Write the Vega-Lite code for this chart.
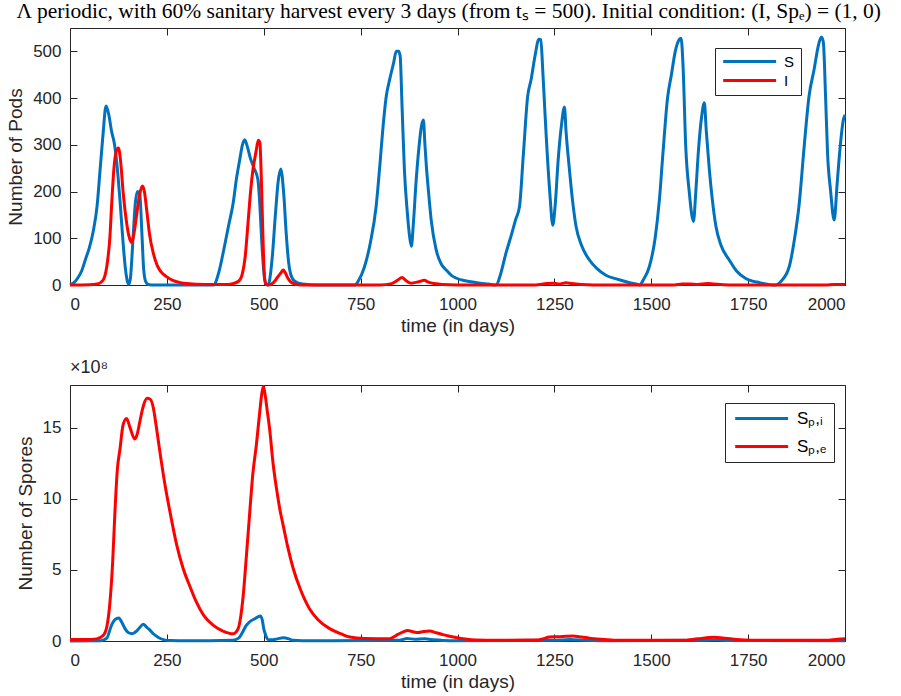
{
 "$schema": "https://vega.github.io/schema/vega-lite/v6.json",
 "background": "white",
 "padding": {"left": 6, "top": 0, "right": 5, "bottom": 5},
 "title": {"text": "Λ periodic, with 60% sanitary harvest every 3 days (from tₛ = 500). Initial condition: (I, Spₑ) = (1, 0)", "font": "Liberation Serif", "fontSize": 21.5, "fontWeight": "normal", "color": "black", "anchor": "middle", "offset": 5, "dx": 20},
 "config": {
  "font": "Liberation Sans",
  "view": {"stroke": "#262626", "strokeWidth": 1},
  "axis": {"domain": false, "grid": false, "tickColor": "#262626", "tickSize": -7, "labelColor": "#262626", "labelFontSize": 17, "titleFontSize": 19, "titleFontWeight": "normal", "titleColor": "#262626", "labelFont": "Liberation Sans", "titleFont": "Liberation Sans"},
  "legend": {"orient": "none", "title": null, "symbolType": "M-1,0L9,0", "symbolSize": 112, "symbolStrokeWidth": 3, "labelFontSize": 15, "labelColor": "black", "labelFont": "Liberation Sans", "strokeColor": "#262626", "fillColor": "white", "padding": 6, "rowPadding": 3, "labelOffset": 48, "cornerRadius": 0}
 },
 "datasets": {
  "pods": [
   {"t":0,"series":"S","n":0},{"t":10,"series":"S","n":5},{"t":20,"series":"S","n":15},{"t":30,"series":"S","n":30},{"t":40,"series":"S","n":55},{"t":50,"series":"S","n":80},{"t":60,"series":"S","n":115},{"t":70,"series":"S","n":170},{"t":78,"series":"S","n":250},{"t":85,"series":"S","n":320},{"t":93,"series":"S","n":383},{"t":100,"series":"S","n":365},{"t":107,"series":"S","n":330},{"t":115,"series":"S","n":300},{"t":122,"series":"S","n":250},{"t":130,"series":"S","n":170},{"t":137,"series":"S","n":90},{"t":143,"series":"S","n":35},{"t":148,"series":"S","n":8},{"t":152,"series":"S","n":2},{"t":156,"series":"S","n":15},{"t":162,"series":"S","n":90},{"t":168,"series":"S","n":170},{"t":174,"series":"S","n":200},{"t":180,"series":"S","n":195},{"t":185,"series":"S","n":120},{"t":190,"series":"S","n":35},{"t":195,"series":"S","n":8},{"t":200,"series":"S","n":2},{"t":210,"series":"S","n":0},
   {"t":370,"series":"S","n":0},{"t":385,"series":"S","n":30},{"t":395,"series":"S","n":68},{"t":410,"series":"S","n":130},{"t":421,"series":"S","n":175},{"t":430,"series":"S","n":230},{"t":438,"series":"S","n":268},{"t":445,"series":"S","n":300},{"t":451,"series":"S","n":311},{"t":458,"series":"S","n":295},{"t":466,"series":"S","n":270},{"t":475,"series":"S","n":250},{"t":485,"series":"S","n":225},{"t":490,"series":"S","n":170},{"t":495,"series":"S","n":90},{"t":500,"series":"S","n":30},{"t":505,"series":"S","n":3},{"t":510,"series":"S","n":0},{"t":515,"series":"S","n":10},{"t":522,"series":"S","n":60},{"t":530,"series":"S","n":150},{"t":537,"series":"S","n":220},{"t":544,"series":"S","n":248},{"t":552,"series":"S","n":190},{"t":558,"series":"S","n":110},{"t":564,"series":"S","n":50},{"t":570,"series":"S","n":22},{"t":580,"series":"S","n":8},{"t":600,"series":"S","n":2},{"t":640,"series":"S","n":0},
   {"t":735,"series":"S","n":0},{"t":745,"series":"S","n":10},{"t":760,"series":"S","n":39},{"t":775,"series":"S","n":90},{"t":790,"series":"S","n":168},{"t":800,"series":"S","n":260},{"t":808,"series":"S","n":340},{"t":816,"series":"S","n":403},{"t":825,"series":"S","n":440},{"t":835,"series":"S","n":475},{"t":842,"series":"S","n":500},{"t":848,"series":"S","n":500},{"t":852,"series":"S","n":490},{"t":857,"series":"S","n":380},{"t":863,"series":"S","n":246},{"t":870,"series":"S","n":160},{"t":877,"series":"S","n":100},{"t":881,"series":"S","n":83},{"t":886,"series":"S","n":130},{"t":893,"series":"S","n":220},{"t":900,"series":"S","n":290},{"t":907,"series":"S","n":340},{"t":912,"series":"S","n":353},{"t":916,"series":"S","n":300},{"t":920,"series":"S","n":250},{"t":924,"series":"S","n":211},{"t":932,"series":"S","n":140},{"t":945,"series":"S","n":75},{"t":958,"series":"S","n":45},{"t":971,"series":"S","n":32},{"t":985,"series":"S","n":20},{"t":996,"series":"S","n":15},{"t":1020,"series":"S","n":9},{"t":1050,"series":"S","n":5},{"t":1080,"series":"S","n":2},{"t":1100,"series":"S","n":0},
   {"t":1110,"series":"S","n":20},{"t":1125,"series":"S","n":68},{"t":1140,"series":"S","n":110},{"t":1150,"series":"S","n":140},{"t":1160,"series":"S","n":168},{"t":1170,"series":"S","n":280},{"t":1181,"series":"S","n":403},{"t":1190,"series":"S","n":440},{"t":1200,"series":"S","n":490},{"t":1210,"series":"S","n":526},{"t":1215,"series":"S","n":525},{"t":1220,"series":"S","n":460},{"t":1225,"series":"S","n":380},{"t":1229,"series":"S","n":318},{"t":1238,"series":"S","n":200},{"t":1246,"series":"S","n":128},{"t":1252,"series":"S","n":170},{"t":1260,"series":"S","n":270},{"t":1268,"series":"S","n":340},{"t":1276,"series":"S","n":381},{"t":1280,"series":"S","n":330},{"t":1289,"series":"S","n":246},{"t":1297,"series":"S","n":180},{"t":1306,"series":"S","n":125},{"t":1320,"series":"S","n":85},{"t":1340,"series":"S","n":54},{"t":1360,"series":"S","n":35},{"t":1383,"series":"S","n":21},{"t":1410,"series":"S","n":13},{"t":1440,"series":"S","n":6},{"t":1461,"series":"S","n":2},{"t":1470,"series":"S","n":0},
   {"t":1480,"series":"S","n":12},{"t":1495,"series":"S","n":39},{"t":1510,"series":"S","n":100},{"t":1521,"series":"S","n":182},{"t":1530,"series":"S","n":280},{"t":1542,"series":"S","n":400},{"t":1552,"series":"S","n":450},{"t":1562,"series":"S","n":500},{"t":1572,"series":"S","n":525},{"t":1577,"series":"S","n":528},{"t":1582,"series":"S","n":470},{"t":1589,"series":"S","n":296},{"t":1598,"series":"S","n":200},{"t":1609,"series":"S","n":136},{"t":1615,"series":"S","n":200},{"t":1622,"series":"S","n":290},{"t":1630,"series":"S","n":360},{"t":1637,"series":"S","n":390},{"t":1642,"series":"S","n":330},{"t":1650,"series":"S","n":246},{"t":1658,"series":"S","n":180},{"t":1667,"series":"S","n":125},{"t":1680,"series":"S","n":85},{"t":1701,"series":"S","n":54},{"t":1720,"series":"S","n":30},{"t":1744,"series":"S","n":14},{"t":1780,"series":"S","n":5},{"t":1821,"series":"S","n":0},
   {"t":1835,"series":"S","n":8},{"t":1856,"series":"S","n":39},{"t":1870,"series":"S","n":100},{"t":1882,"series":"S","n":175},{"t":1895,"series":"S","n":300},{"t":1907,"series":"S","n":403},{"t":1920,"series":"S","n":460},{"t":1932,"series":"S","n":515},{"t":1939,"series":"S","n":531},{"t":1944,"series":"S","n":520},{"t":1950,"series":"S","n":400},{"t":1955,"series":"S","n":282},{"t":1963,"series":"S","n":200},{"t":1972,"series":"S","n":139},{"t":1980,"series":"S","n":220},{"t":1988,"series":"S","n":300},{"t":1995,"series":"S","n":350},{"t":2000,"series":"S","n":364},
   {"t":0,"series":"I","n":0},{"t":50,"series":"I","n":0.5},{"t":70,"series":"I","n":2},{"t":85,"series":"I","n":10},{"t":95,"series":"I","n":40},{"t":103,"series":"I","n":103},{"t":108,"series":"I","n":180},{"t":113,"series":"I","n":246},{"t":119,"series":"I","n":285},{"t":125,"series":"I","n":293},{"t":130,"series":"I","n":270},{"t":137,"series":"I","n":200},{"t":145,"series":"I","n":140},{"t":152,"series":"I","n":105},{"t":159,"series":"I","n":91},{"t":165,"series":"I","n":110},{"t":172,"series":"I","n":150},{"t":180,"series":"I","n":195},{"t":187,"series":"I","n":212},{"t":192,"series":"I","n":200},{"t":198,"series":"I","n":160},{"t":205,"series":"I","n":110},{"t":215,"series":"I","n":68},{"t":225,"series":"I","n":42},{"t":235,"series":"I","n":28},{"t":249,"series":"I","n":18},{"t":265,"series":"I","n":10},{"t":285,"series":"I","n":5},{"t":300,"series":"I","n":3},{"t":350,"series":"I","n":1},{"t":400,"series":"I","n":1},{"t":420,"series":"I","n":3},{"t":435,"series":"I","n":8},{"t":445,"series":"I","n":25},{"t":452,"series":"I","n":60},{"t":460,"series":"I","n":139},{"t":466,"series":"I","n":200},{"t":472,"series":"I","n":246},{"t":480,"series":"I","n":285},{"t":486,"series":"I","n":310},{"t":490,"series":"I","n":305},{"t":494,"series":"I","n":220},{"t":498,"series":"I","n":100},{"t":502,"series":"I","n":15},{"t":506,"series":"I","n":2},{"t":512,"series":"I","n":0},{"t":525,"series":"I","n":5},{"t":535,"series":"I","n":16},{"t":545,"series":"I","n":27},{"t":550,"series":"I","n":32},{"t":555,"series":"I","n":27},{"t":562,"series":"I","n":15},{"t":570,"series":"I","n":6},{"t":580,"series":"I","n":2},{"t":600,"series":"I","n":0},{"t":800,"series":"I","n":0},{"t":830,"series":"I","n":3},{"t":845,"series":"I","n":10},{"t":857,"series":"I","n":16},{"t":866,"series":"I","n":10},{"t":880,"series":"I","n":4},{"t":900,"series":"I","n":7},{"t":914,"series":"I","n":10},{"t":925,"series":"I","n":6},{"t":940,"series":"I","n":3},{"t":960,"series":"I","n":1},{"t":1000,"series":"I","n":0},{"t":1200,"series":"I","n":0},{"t":1230,"series":"I","n":3},{"t":1250,"series":"I","n":4},{"t":1262,"series":"I","n":2},{"t":1280,"series":"I","n":5},{"t":1295,"series":"I","n":3},{"t":1320,"series":"I","n":1},{"t":1350,"series":"I","n":0},{"t":1560,"series":"I","n":0},{"t":1580,"series":"I","n":2},{"t":1600,"series":"I","n":2},{"t":1620,"series":"I","n":1},{"t":1645,"series":"I","n":3},{"t":1660,"series":"I","n":2},{"t":1700,"series":"I","n":0},{"t":1950,"series":"I","n":0},{"t":1970,"series":"I","n":1},{"t":2000,"series":"I","n":1}
  ],
  "spores": [
   {"t":0,"series":"Sₚ,ᵢ","n":0},{"t":80,"series":"Sₚ,ᵢ","n":0.02},{"t":95,"series":"Sₚ,ᵢ","n":0.2},{"t":107,"series":"Sₚ,ᵢ","n":1.1},{"t":116,"series":"Sₚ,ᵢ","n":1.5},{"t":126,"series":"Sₚ,ᵢ","n":1.62},{"t":134,"series":"Sₚ,ᵢ","n":1.3},{"t":142,"series":"Sₚ,ᵢ","n":0.87},{"t":150,"series":"Sₚ,ᵢ","n":0.6},{"t":161,"series":"Sₚ,ᵢ","n":0.51},{"t":172,"series":"Sₚ,ᵢ","n":0.7},{"t":180,"series":"Sₚ,ᵢ","n":0.95},{"t":189,"series":"Sₚ,ᵢ","n":1.17},{"t":197,"series":"Sₚ,ᵢ","n":1.0},{"t":205,"series":"Sₚ,ᵢ","n":0.8},{"t":215,"series":"Sₚ,ᵢ","n":0.51},{"t":228,"series":"Sₚ,ᵢ","n":0.25},{"t":241,"series":"Sₚ,ᵢ","n":0.1},{"t":260,"series":"Sₚ,ᵢ","n":0.03},{"t":300,"series":"Sₚ,ᵢ","n":0.01},{"t":420,"series":"Sₚ,ᵢ","n":0.05},{"t":435,"series":"Sₚ,ᵢ","n":0.2},{"t":445,"series":"Sₚ,ᵢ","n":0.6},{"t":455,"series":"Sₚ,ᵢ","n":1.1},{"t":466,"series":"Sₚ,ᵢ","n":1.4},{"t":477,"series":"Sₚ,ᵢ","n":1.57},{"t":485,"series":"Sₚ,ᵢ","n":1.7},{"t":491,"series":"Sₚ,ᵢ","n":1.76},{"t":496,"series":"Sₚ,ᵢ","n":1.5},{"t":500,"series":"Sₚ,ᵢ","n":0.87},{"t":505,"series":"Sₚ,ᵢ","n":0.4},{"t":511,"series":"Sₚ,ᵢ","n":0.1},{"t":520,"series":"Sₚ,ᵢ","n":0.08},{"t":535,"series":"Sₚ,ᵢ","n":0.15},{"t":550,"series":"Sₚ,ᵢ","n":0.23},{"t":565,"series":"Sₚ,ᵢ","n":0.15},{"t":575,"series":"Sₚ,ᵢ","n":0.05},{"t":600,"series":"Sₚ,ᵢ","n":0.02},{"t":850,"series":"Sₚ,ᵢ","n":0.05},{"t":870,"series":"Sₚ,ᵢ","n":0.18},{"t":890,"series":"Sₚ,ᵢ","n":0.12},{"t":915,"series":"Sₚ,ᵢ","n":0.15},{"t":940,"series":"Sₚ,ᵢ","n":0.08},{"t":980,"series":"Sₚ,ᵢ","n":0.02},{"t":1250,"series":"Sₚ,ᵢ","n":0.05},{"t":1290,"series":"Sₚ,ᵢ","n":0.1},{"t":1330,"series":"Sₚ,ᵢ","n":0.05},{"t":1400,"series":"Sₚ,ᵢ","n":0.01},{"t":1640,"series":"Sₚ,ᵢ","n":0.05},{"t":1670,"series":"Sₚ,ᵢ","n":0.08},{"t":1700,"series":"Sₚ,ᵢ","n":0.03},{"t":2000,"series":"Sₚ,ᵢ","n":0.02},
   {"t":0,"series":"Sₚ,ₑ","n":0.1},{"t":40,"series":"Sₚ,ₑ","n":0.1},{"t":69,"series":"Sₚ,ₑ","n":0.15},{"t":86,"series":"Sₚ,ₑ","n":0.4},{"t":95,"series":"Sₚ,ₑ","n":1.0},{"t":103,"series":"Sₚ,ₑ","n":2.7},{"t":110,"series":"Sₚ,ₑ","n":5.5},{"t":116,"series":"Sₚ,ₑ","n":9.1},{"t":122,"series":"Sₚ,ₑ","n":12},{"t":129,"series":"Sₚ,ₑ","n":13.5},{"t":137,"series":"Sₚ,ₑ","n":15.2},{"t":146,"series":"Sₚ,ₑ","n":15.65},{"t":155,"series":"Sₚ,ₑ","n":15.0},{"t":167,"series":"Sₚ,ₑ","n":14.2},{"t":174,"series":"Sₚ,ₑ","n":14.6},{"t":180,"series":"Sₚ,ₑ","n":15.4},{"t":190,"series":"Sₚ,ₑ","n":16.6},{"t":199,"series":"Sₚ,ₑ","n":17.06},{"t":207,"series":"Sₚ,ₑ","n":17.0},{"t":215,"series":"Sₚ,ₑ","n":16.4},{"t":222,"series":"Sₚ,ₑ","n":15.2},{"t":232,"series":"Sₚ,ₑ","n":13.3},{"t":245,"series":"Sₚ,ₑ","n":11.0},{"t":258,"series":"Sₚ,ₑ","n":9.08},{"t":275,"series":"Sₚ,ₑ","n":6.8},{"t":292,"series":"Sₚ,ₑ","n":5.1},{"t":310,"series":"Sₚ,ₑ","n":3.8},{"t":326,"series":"Sₚ,ₑ","n":2.75},{"t":345,"series":"Sₚ,ₑ","n":1.8},{"t":370,"series":"Sₚ,ₑ","n":1.1},{"t":395,"series":"Sₚ,ₑ","n":0.7},{"t":421,"series":"Sₚ,ₑ","n":0.51},{"t":434,"series":"Sₚ,ₑ","n":0.87},{"t":441,"series":"Sₚ,ₑ","n":1.8},{"t":447,"series":"Sₚ,ₑ","n":3.2},{"t":455,"series":"Sₚ,ₑ","n":5.9},{"t":464,"series":"Sₚ,ₑ","n":9.1},{"t":472,"series":"Sₚ,ₑ","n":11.8},{"t":481,"series":"Sₚ,ₑ","n":13.8},{"t":490,"series":"Sₚ,ₑ","n":16.2},{"t":495,"series":"Sₚ,ₑ","n":17.4},{"t":499,"series":"Sₚ,ₑ","n":17.9},{"t":503,"series":"Sₚ,ₑ","n":17.4},{"t":509,"series":"Sₚ,ₑ","n":16.2},{"t":515,"series":"Sₚ,ₑ","n":14.95},{"t":524,"series":"Sₚ,ₑ","n":12.5},{"t":533,"series":"Sₚ,ₑ","n":10.7},{"t":542,"series":"Sₚ,ₑ","n":9.2},{"t":550,"series":"Sₚ,ₑ","n":8.15},{"t":562,"series":"Sₚ,ₑ","n":6.6},{"t":576,"series":"Sₚ,ₑ","n":5.1},{"t":595,"series":"Sₚ,ₑ","n":3.6},{"t":618,"series":"Sₚ,ₑ","n":2.27},{"t":640,"series":"Sₚ,ₑ","n":1.5},{"t":670,"series":"Sₚ,ₑ","n":0.87},{"t":700,"series":"Sₚ,ₑ","n":0.5},{"t":722,"series":"Sₚ,ₑ","n":0.28},{"t":760,"series":"Sₚ,ₑ","n":0.18},{"t":825,"series":"Sₚ,ₑ","n":0.15},{"t":842,"series":"Sₚ,ₑ","n":0.4},{"t":857,"series":"Sₚ,ₑ","n":0.6},{"t":872,"series":"Sₚ,ₑ","n":0.73},{"t":885,"series":"Sₚ,ₑ","n":0.65},{"t":898,"series":"Sₚ,ₑ","n":0.6},{"t":912,"series":"Sₚ,ₑ","n":0.66},{"t":928,"series":"Sₚ,ₑ","n":0.7},{"t":945,"series":"Sₚ,ₑ","n":0.58},{"t":962,"series":"Sₚ,ₑ","n":0.45},{"t":980,"series":"Sₚ,ₑ","n":0.34},{"t":996,"series":"Sₚ,ₑ","n":0.25},{"t":1020,"series":"Sₚ,ₑ","n":0.14},{"t":1048,"series":"Sₚ,ₑ","n":0.07},{"t":1100,"series":"Sₚ,ₑ","n":0.05},{"t":1203,"series":"Sₚ,ₑ","n":0.07},{"t":1220,"series":"Sₚ,ₑ","n":0.15},{"t":1237,"series":"Sₚ,ₑ","n":0.28},{"t":1260,"series":"Sₚ,ₑ","n":0.3},{"t":1280,"series":"Sₚ,ₑ","n":0.33},{"t":1297,"series":"Sₚ,ₑ","n":0.35},{"t":1320,"series":"Sₚ,ₑ","n":0.28},{"t":1340,"series":"Sₚ,ₑ","n":0.2},{"t":1370,"series":"Sₚ,ₑ","n":0.12},{"t":1409,"series":"Sₚ,ₑ","n":0.05},{"t":1580,"series":"Sₚ,ₑ","n":0.05},{"t":1620,"series":"Sₚ,ₑ","n":0.15},{"t":1662,"series":"Sₚ,ₑ","n":0.26},{"t":1690,"series":"Sₚ,ₑ","n":0.2},{"t":1720,"series":"Sₚ,ₑ","n":0.1},{"t":1760,"series":"Sₚ,ₑ","n":0.05},{"t":1950,"series":"Sₚ,ₑ","n":0.05},{"t":1980,"series":"Sₚ,ₑ","n":0.12},{"t":2000,"series":"Sₚ,ₑ","n":0.16}
  ]
 },
 "spacing": 22,
 "resolve": {"scale": {"color": "independent"}, "legend": {"color": "independent"}},
 "vconcat": [
  {
   "width": 775, "height": 257,
   "data": {"name": "pods"},
   "resolve": {"axis": {"x": "independent", "y": "independent"}},
   "layer": [
    {
     "transform": [{"filter": "datum.series === 'S'"}],
     "mark": {"type": "line", "strokeWidth": 3, "interpolate": "monotone"},
     "encoding": {
      "x": {"field": "t", "type": "quantitative", "scale": {"domain": [0, 2000], "nice": false}, "axis": {"orient": "bottom", "values": [0,250,500,750,1000,1250,1500,1750,2000], "format": "d", "title": "time (in days)", "labelPadding": 18, "titlePadding": 4}},
      "y": {"field": "n", "type": "quantitative", "scale": {"domain": [0, 550], "nice": false}, "axis": {"orient": "left", "values": [0,100,200,300,400,500], "format": "d", "title": "Number of Pods", "labelPadding": 16, "titlePadding": 7}},
      "color": {"field": "series", "type": "nominal", "scale": {"domain": ["S", "I"], "range": ["#0072BD", "#FF0000"]}, "legend": {"legendX": 645, "legendY": 20}}
     }
    },
    {
     "transform": [{"filter": "datum.series === 'I'"}],
     "mark": {"type": "line", "strokeWidth": 3, "interpolate": "monotone"},
     "encoding": {
      "x": {"field": "t", "type": "quantitative", "axis": {"orient": "top", "values": [0,250,500,750,1000,1250,1500,1750,2000], "labels": false, "title": null}},
      "y": {"field": "n", "type": "quantitative", "axis": {"orient": "right", "values": [0,100,200,300,400,500], "labels": false, "title": null}},
      "color": {"field": "series", "type": "nominal", "scale": {"domain": ["S", "I"], "range": ["#0072BD", "#FF0000"]}, "legend": {"legendX": 645, "legendY": 20}}
     }
    }
   ]
  },
  {
   "width": 775, "height": 256,
   "title": {"text": "×10⁸", "anchor": "start", "frame": "group", "fontSize": 18, "fontWeight": "normal", "font": "Liberation Sans", "color": "#262626", "offset": 3},
   "data": {"name": "spores"},
   "resolve": {"axis": {"x": "independent", "y": "independent"}},
   "layer": [
    {
     "transform": [{"filter": "datum.series === 'Sₚ,ᵢ'"}],
     "mark": {"type": "line", "strokeWidth": 3, "interpolate": "monotone"},
     "encoding": {
      "x": {"field": "t", "type": "quantitative", "scale": {"domain": [0, 2000], "nice": false}, "axis": {"orient": "bottom", "values": [0,250,500,750,1000,1250,1500,1750,2000], "format": "d", "title": "time (in days)", "labelPadding": 18, "titlePadding": 4}},
      "y": {"field": "n", "type": "quantitative", "scale": {"domain": [0, 18], "nice": false}, "axis": {"orient": "left", "values": [0,5,10,15], "format": "d", "title": "Number of Spores", "labelPadding": 16, "titlePadding": 7}},
      "color": {"field": "series", "type": "nominal", "scale": {"domain": ["Sₚ,ᵢ", "Sₚ,ₑ"], "range": ["#0072BD", "#FF0000"]}, "legend": {"legendX": 655, "legendY": 18, "labelFontSize": 17, "rowPadding": 10, "padding": 7}}
     }
    },
    {
     "transform": [{"filter": "datum.series === 'Sₚ,ₑ'"}],
     "mark": {"type": "line", "strokeWidth": 3, "interpolate": "monotone"},
     "encoding": {
      "x": {"field": "t", "type": "quantitative", "axis": {"orient": "top", "values": [0,250,500,750,1000,1250,1500,1750,2000], "labels": false, "title": null}},
      "y": {"field": "n", "type": "quantitative", "axis": {"orient": "right", "values": [0,5,10,15], "labels": false, "title": null}},
      "color": {"field": "series", "type": "nominal", "scale": {"domain": ["Sₚ,ᵢ", "Sₚ,ₑ"], "range": ["#0072BD", "#FF0000"]}, "legend": {"legendX": 655, "legendY": 18, "labelFontSize": 17, "rowPadding": 10, "padding": 7}}
     }
    }
   ]
  }
 ]
}
